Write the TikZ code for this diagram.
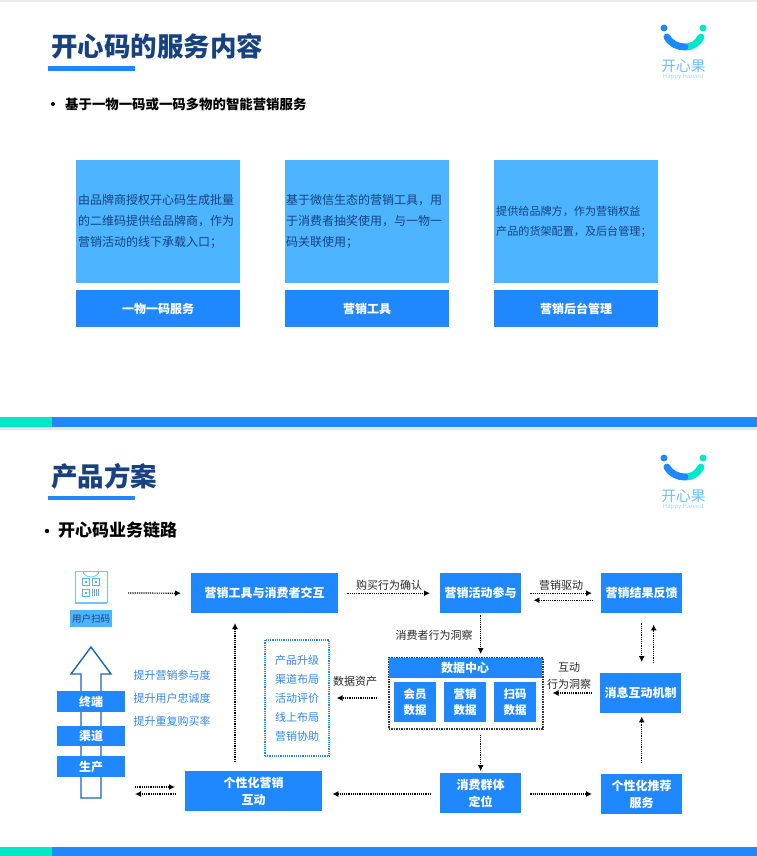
\documentclass[tikz,border=0pt]{standalone}
\usepackage{fontspec}
\setmainfont{Noto Sans CJK SC}
\usepackage{tikz}
\usetikzlibrary{arrows.meta}
\definecolor{kxblue}{HTML}{1F88FF}
\definecolor{kxsky}{HTML}{4DB5FF}
\definecolor{kxteal}{HTML}{00E8C6}
\definecolor{kxnavy}{HTML}{17417F}
\definecolor{kxtext}{HTML}{2F86EE}
\tikzset{
	bluebox/.style={fill=kxblue,text=white,font=\fontsize{12}{17}\selectfont\bfseries,align=center,anchor=north west,inner sep=0pt},
	skybox/.style={fill=kxsky,text=kxnavy,font=\fontsize{12}{21}\selectfont,align=left,anchor=north west,inner sep=0pt,text width=164pt,minimum height=123pt},
	pagetitle/.style={anchor=west,text=kxnavy,font=\fontsize{26.5}{30}\selectfont\bfseries,inner sep=0pt},
	flow/.style={densely dotted,line width=1.2pt,-{Latex[length=6pt,width=6pt]}},
	tag/.style={font=\fontsize{11}{14}\selectfont,text=black!85,align=center,inner sep=0pt},
	bluetext/.style={font=\fontsize{11}{19}\selectfont,text=kxtext,align=center,inner sep=0pt},
}
\begin{document}
\begin{tikzpicture}[x=1pt,y=-1pt]
	\useasboundingbox (0,0) rectangle (757,856);
	\fill[black!8] (0,0) rectangle (757,2);
	\fill[black!10] (0,427) rectangle (757,430);
	% bottom bands of both pages
	\foreach \y/\h in {417/10,847/9} {
		\fill[kxteal] (0,\y) rectangle (52,\y+\h);
		\fill[kxblue] (52,\y) rectangle (757,\y+\h);
	}
	% logos
	\foreach \dy in {0,430} {
		\fill[kxblue] (664,28+\dy) circle (3.5);
		\fill[kxteal] (703,28+\dy) circle (3.5);
		\draw[kxteal,line width=7pt,line cap=round] (686,47+\dy) .. controls (692,47+\dy) and (698,43+\dy) .. (701,37+\dy);
		\draw[kxblue,line width=7pt,line cap=round] (667,37+\dy) .. controls (671,44+\dy) and (678,47+\dy) .. (685,47+\dy);
		\node[kxsky!85,inner sep=0pt,font=\fontsize{14.7}{15}\selectfont] (logo\dy) at (683.5,66+\dy) {开心果};
		\node[kxsky!55,inner sep=0pt,font=\fontsize{6}{6}\selectfont] (logotag\dy) at (683.5,77+\dy) {Happy Harvest};
	}
	% first page
	\node[pagetitle] (title1) at (51,46) {开心码的服务内容};
	\fill[kxblue] (48,66) rectangle (135,71);
	\fill[black] (53,104) circle (2);
	\node[anchor=west,inner sep=0pt,font=\fontsize{13.4}{15}\selectfont\bfseries] (lead1) at (65,104) {基于一物一码或一码多物的智能营销服务};
	\node[skybox] (card1) at (76,160) {\hspace{2pt}由品牌商授权开心码生成批量\\\hspace{2pt}的二维码提供给品牌商，作为\\\hspace{2pt}营销活动的线下承载入口；};
	\node[skybox] (card2) at (285,160) {\hspace{1pt}基于微信生态的营销工具，用\\\hspace{1pt}于消费者抽奖使用，与一物一\\\hspace{1pt}码关联使用；};
	\node[skybox,font=\fontsize{11.1}{20}\selectfont] (card3) at (494,160) {\hspace{2pt}提供给品牌方，作为营销权益\\\hspace{2pt}产品的货架配置，及后台管理；};
	\node[bluebox,minimum width=164pt,minimum height=37pt] (base1) at (76,290) {一物一码服务};
	\node[bluebox,minimum width=164pt,minimum height=37pt] (base2) at (285,290) {营销工具};
	\node[bluebox,minimum width=164pt,minimum height=37pt] (base3) at (494,290) {营销后台管理};
	% second page
	\node[pagetitle] (title2) at (51,476) {产品方案};
	\fill[kxblue] (48,496) rectangle (135,500);
	\fill[black] (47,531) circle (2.2);
	\node[anchor=west,inner sep=0pt,font=\fontsize{17}{19}\selectfont\bfseries] (lead2) at (58,530) {开心码业务链路};
	% scan bag
	\draw[kxsky!80,line width=.9pt] (75,571) -- (107,571) (75,571) -- (75,603) (107,571) -- (107,603);
	\draw[kxsky!80,line width=1.4pt] (75,603) -- (107,603);
	\draw[kxsky!80,line width=.9pt] (83,571) arc (180:0:8 and 6);
	\foreach \qx/\qy in {82/578,92/578,82/589} {
		\draw[kxsky,line width=1pt] (\qx,\qy) rectangle (\qx+7,\qy+7);
		\fill[kxsky] (\qx+2.5,\qy+2.5) rectangle (\qx+4.5,\qy+4.5);
	}
	\foreach \qx in {92,94.2,96.4,98.6} {
		\draw[kxsky,line width=1pt] (\qx,589) -- (\qx,596);
	}
	\node[fill=kxsky,inner sep=0pt,minimum width=42pt,minimum height=17pt,font=\fontsize{9.5}{10}\selectfont,text=kxnavy] (scan) at (91,618.5) {用户扫码};
	\coordinate (scanout) at (128,593);
	% growth arrow
	\draw[kxblue!75!black,line width=1.4pt,fill=white] (81,798) -- (81,674) -- (71,674) -- (91,647) -- (111,674) -- (101,674) -- (101,798) -- cycle;
	\node[bluebox,minimum width=68pt,minimum height=21pt] (endpt) at (57,691) {终端};
	\node[bluebox,minimum width=68pt,minimum height=20pt] (channel) at (57,726) {渠道};
	\node[bluebox,minimum width=68pt,minimum height=21pt] (maker) at (57,756) {生产};
	\node[bluetext] (gains) at (172,698) {提升营销参与度\\[4pt]提升用户忠诚度\\[4pt]提升重复购买率};
	\coordinate (pairin) at (135,787);
	\coordinate (pairout) at (135,794);
	% flow boxes
	\node[bluebox,minimum width=147pt,minimum height=40pt] (tool) at (191,573) {营销工具与消费者交互};
	\node[bluebox,minimum width=81pt,minimum height=40pt] (join) at (440,573) {营销活动参与};
	\node[bluebox,minimum width=81pt,minimum height=40pt] (result) at (601,573) {营销结果反馈};
	\node[bluebox,minimum width=81pt,minimum height=40pt] (notice) at (600,673) {消息互动机制};
	\node[bluebox,minimum width=81pt,minimum height=40pt] (group) at (440,773) {消费群体\\定位};
	\node[bluebox,minimum width=81pt,minimum height=40pt] (recom) at (601,774) {个性化推荐\\服务};
	\node[bluebox,minimum width=137pt,minimum height=40pt] (care) at (185,771) {个性化营销\\互动};
	% data centre
	\node[draw=black!80,densely dotted,line width=1.5pt,anchor=north west,inner sep=0pt,minimum width=154pt,minimum height=71pt] (dc) at (388,657) {};
	\node[bluebox,minimum width=153pt,minimum height=20pt] (center) at (388.5,658) {数据中心};
	\node[bluebox,minimum width=42pt,minimum height=40pt,font=\fontsize{11.5}{16}\selectfont\bfseries] (member) at (394,682) {会员\\数据};
	\node[bluebox,minimum width=42pt,minimum height=40pt,font=\fontsize{11.5}{16}\selectfont\bfseries] (sales) at (444,682) {营销\\数据};
	\node[bluebox,minimum width=42pt,minimum height=40pt,font=\fontsize{11.5}{16}\selectfont\bfseries] (codes) at (494,682) {扫码\\数据};
	\node[draw=kxblue,densely dotted,line width=1.2pt,bluetext,minimum width=64pt,minimum height=116pt] (asset) at (297,698) {产品升级\\渠道布局\\活动评价\\线上布局\\营销协助};
	% connectors
	\draw[flow] (scanout) -- ([xshift=-10pt]tool.west);
	\draw[flow] ([xshift=9pt]tool.east) -- ([xshift=-10pt]join.west);
	\draw[flow] ([xshift=9pt]join.east) -- ([xshift=-9pt]result.west);
	\draw[flow] ([xshift=-8pt,yshift=-7pt]result.west) -- ([xshift=12pt,yshift=-7pt]join.east);
	\draw[flow] ([yshift=-2pt]join.south) -- ([yshift=3pt]dc.north -| join.south);
	\draw[flow] ([yshift=-10pt]result.south) -- ([yshift=11pt]result.south |- notice.north);
	\draw[flow] ([xshift=12pt,yshift=10pt]result.south |- notice.north) -- ([xshift=12pt,yshift=-11pt]result.south);
	\draw[flow] ([xshift=-8pt]notice.west |- 0,693) -- ([xshift=9pt]dc.east |- 0,693);
	\draw[flow] ([yshift=11pt]recom.north) -- ([yshift=-3pt]recom.north |- notice.south);
	\draw[flow] ([yshift=-5pt]dc.south -| group.north) -- ([yshift=2pt]group.north);
	\draw[flow] ([xshift=9pt]group.east |- 0,794) -- ([xshift=-9pt]recom.west |- 0,794);
	\draw[flow] ([xshift=-9pt]group.west |- 0,794) -- ([xshift=10pt]care.east |- 0,794);
	\draw[flow] (235,762) -- (235,623);
	\draw[flow] ([xshift=-11pt]dc.west |- 0,698) -- ([xshift=7pt]asset.east |- 0,698);
	\draw[flow] (pairin) -- (175,787);
	\draw[flow] (176,794) -- (pairout);
	% labels
	\node[tag] (buy) at (389,585) {购买行为确认};
	\node[tag] (drive) at (561,585) {营销驱动};
	\node[tag] (insight) at (434,635) {消费者行为洞察};
	\node[tag] (react) at (569,667) {互动};
	\node[tag] (reactb) at (569,684) {行为洞察};
	\node[tag] (dataasset) at (355,681) {数据资产};
\end{tikzpicture}
\end{document}
